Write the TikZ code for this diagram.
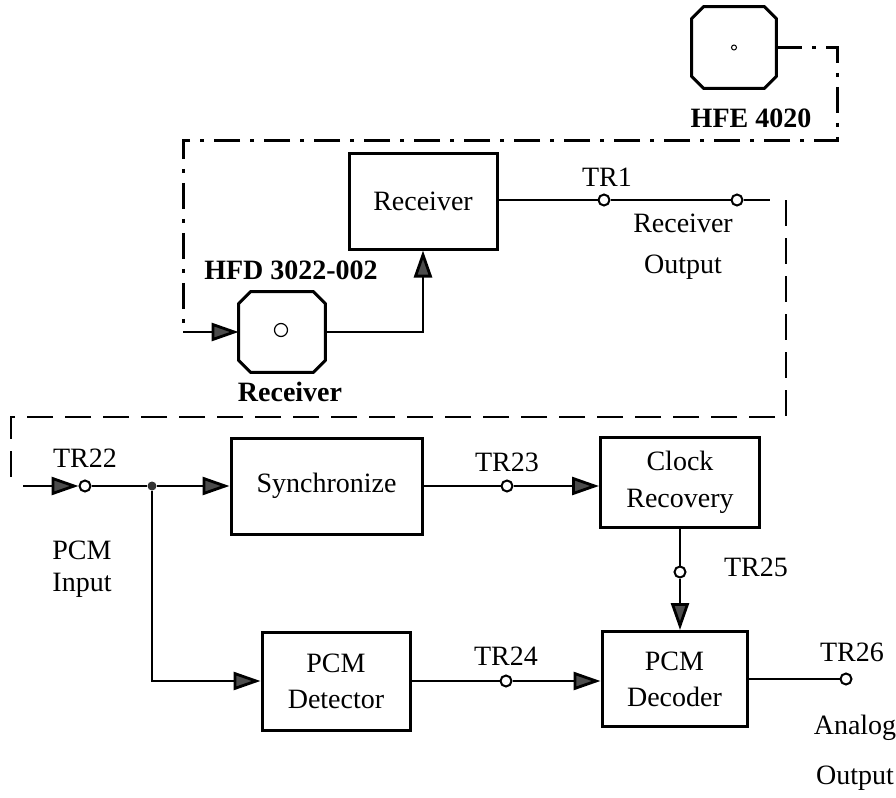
\documentclass[tikz,border=0pt]{standalone}
\usepackage{fontspec}
\setmainfont{Liberation Serif}
\usetikzlibrary{arrows.meta, positioning}

\tikzset{
  block/.style={draw, line width=1.5pt, inner sep=0pt, align=center},
  sensor/.style={inner sep=0pt},
  tp/.style={circle, draw, fill=white, line width=1pt, inner sep=0pt,
             minimum size=5.5pt},
  junc/.style={circle, fill=black!80, inner sep=0pt, minimum size=4.5pt},
  sig/.style={line width=1.4pt},
  fiber/.style={line width=1.5pt, dash pattern=on 13pt off 5pt on 2pt off 5pt},
  cable/.style={line width=1.4pt, dash pattern=on 13pt off 6pt},
  lbl/.style={inner sep=0pt, align=center}
}
% outline of an optical port: box with cut corners
\newcommand{\portoutline}[1]{%
  \draw[line width=1.5pt, line join=round]
    ([xshift=6pt]#1.north west) -- ([xshift=-6pt]#1.north east)
    -- ([yshift=-6pt]#1.north east) -- ([yshift=6pt]#1.south east)
    -- ([xshift=-6pt]#1.south east) -- ([xshift=6pt]#1.south west)
    -- ([yshift=6pt]#1.south west) -- ([yshift=-6pt]#1.north west) -- cycle;}

\begin{document}
\begin{tikzpicture}[x=0.5pt, y=-0.5pt,
    >={Triangle[length=13.5pt, width=9pt, fill=black!70]},
    font=\fontsize{14}{18}\selectfont]
  \useasboundingbox (0,0) rectangle (896,798);

  % optical link
  \node[sensor, minimum width=42pt, minimum height=40.5pt] (hfe) at (734,47.5) {};
  \portoutline{hfe}
  \node[circle, draw, line width=0.5pt, inner sep=0pt, minimum size=2.5pt] (hfedot) at (hfe.center) {};
  \node[lbl, font=\fontsize{14}{18}\selectfont\bfseries] (hfelbl) at (751,118) {HFE 4020};

  \node[sensor, minimum width=43pt, minimum height=40pt] (hfd) at (282,332) {};
  \portoutline{hfd}
  \node[circle, draw, line width=0.6pt, inner sep=0pt, minimum size=6.5pt] (hfddot) at (281,330) {};
  \node[lbl, font=\fontsize{14}{18}\selectfont\bfseries] (hfdlbl) at (291,270) {HFD 3022-002};
  \node[lbl, font=\fontsize{14}{18}\selectfont\bfseries] (hfdname) at (290,392) {Receiver};

  \node[block, minimum width=74pt, minimum height=48pt] (rcv) at (423,201) {Receiver};

  \coordinate (fiberA) at (837,47.5);
  \coordinate (fiberB) at (837,140);
  \coordinate (fiberC) at (183,140);
  \coordinate (fiberD) at (183,332);
  \draw[fiber] (hfe.east) -- (fiberA) -- (fiberB) -- (fiberC) -- (fiberD);
  \draw[sig, ->] (fiberD) -- (hfd.west);
  \draw[sig, ->] (hfd.east) -| (rcv.south);

  % receiver output
  \node[tp] (tr1) at (604,200) {};
  \node[tp] (rxout) at (737,200) {};
  \coordinate (rxend) at (770,200);
  \draw[sig] (rcv.east |- tr1) -- (tr1) -- (rxout) -- (rxend);
  \node[lbl] (tr1lbl) at (607,177) {TR1};
  \node[lbl, font=\fontsize{14}{20.5}\selectfont] (rxlbl) at (683,247) {Receiver\\Output};

  \coordinate (cableA) at (786,200);
  \coordinate (cableB) at (786,417);
  \coordinate (cableC) at (11,417);
  \coordinate (cableD) at (11,483);
  \draw[cable] (cableA) -- (cableB) -- (cableC) -- (cableD);

  % PCM chain
  \node[block, minimum width=95.5pt, minimum height=48pt] (sync) at (326.5,486) {Synchronize};
  \node[block, minimum width=79.5pt, minimum height=45pt] (clk) at (680,482) {Clock\\[0.5pt]Recovery};
  \node[block, minimum width=74pt, minimum height=49pt] (det) at (336,681) {PCM\\Detector};
  \node[block, minimum width=72.5pt, minimum height=47.5pt] (dec) at (674.5,679) {PCM\\Decoder};

  \coordinate (inp) at (23,486);
  \node[tp] (tr22) at (85,486) {};
  \node[junc] (split) at (152,486) {};
  \node[tp] (tr23) at (507,486) {};
  \node[tp] (tr24) at (506,681) {};
  \node[tp] (tr25) at (680,572) {};
  \node[tp] (tr26) at (846,679) {};

  \draw[sig, ->] (inp) -- (tr22);
  \draw[sig, ->] (tr22) -- (split) -- (sync.west);
  \draw[sig, ->] (split) |- (det.west);
  \draw[sig] (sync.east |- tr23) -- (tr23);
  \draw[sig, ->] (tr23) -- (tr23 -| clk.west);
  \draw[sig] (det.east |- tr24) -- (tr24);
  \draw[sig, ->] (tr24) -- (tr24 -| dec.west);
  \draw[sig] (clk.south -| tr25) -- (tr25);
  \draw[sig, ->] (tr25) -- (tr25 |- dec.north);
  \draw[sig] (dec.east |- tr26) -- (tr26);

  \node[lbl] (tr22lbl) at (85,458) {TR22};
  \node[lbl, font=\fontsize{14}{16}\selectfont] (pcmin) at (82,569) {PCM\\Input};
  \node[lbl] (tr23lbl) at (507,462) {TR23};
  \node[lbl] (tr24lbl) at (506,656) {TR24};
  \node[lbl] (tr25lbl) at (756,567) {TR25};
  \node[lbl] (tr26lbl) at (852,652) {TR26};
  \node[lbl, font=\fontsize{14}{25}\selectfont] (anout) at (855,753) {Analog\\Output};
\end{tikzpicture}
\end{document}
